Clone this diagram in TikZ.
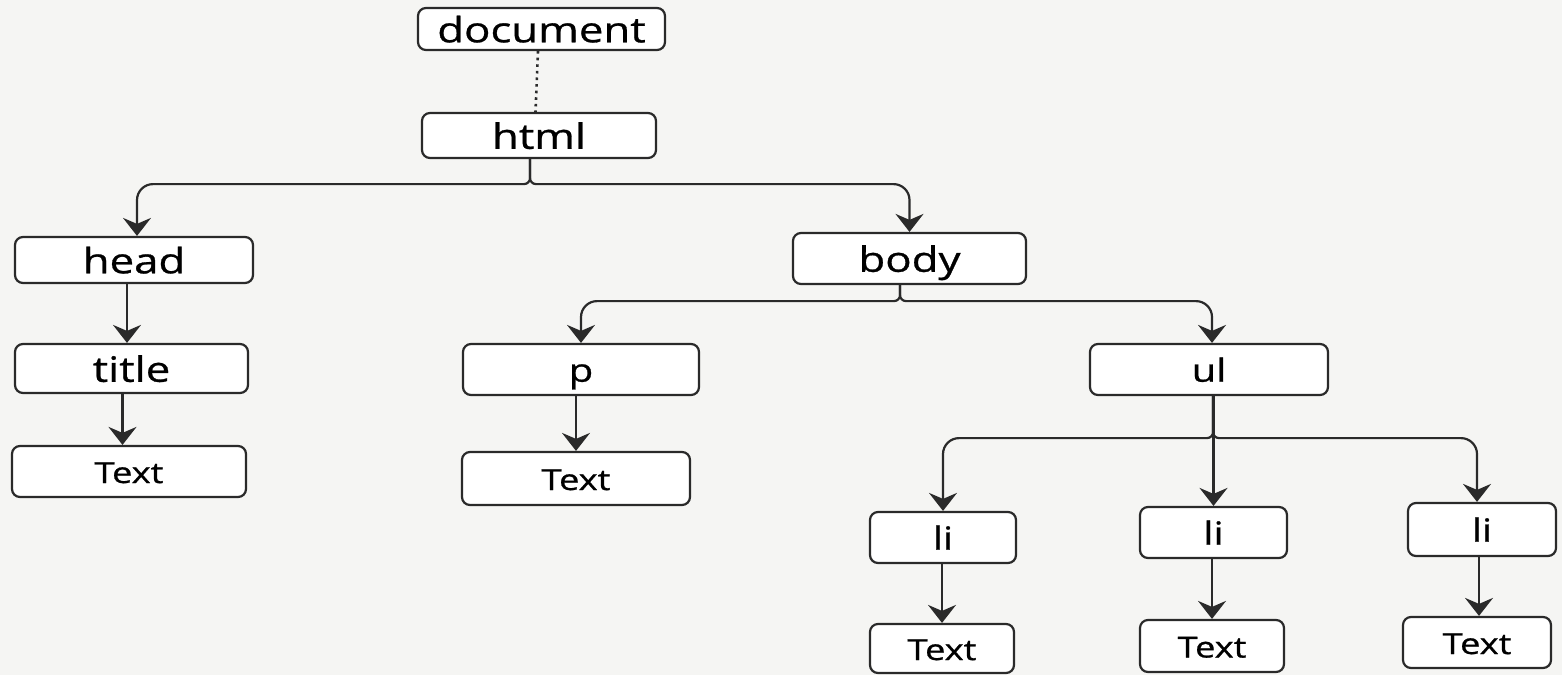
\documentclass[tikz,border=0pt]{standalone}
\usepackage{fontspec}
\setmainfont{Open Sans}[FakeStretch=1.25, FakeBold=0.8]
\usetikzlibrary{arrows.meta}
\definecolor{ink}{HTML}{2A2A2A}
\definecolor{paper}{HTML}{F5F5F3}
\tikzset{
  box/.style={draw=ink, line width=1.1pt, rounded corners=4pt, inner sep=0pt, text=black, fill=white,
    font=\fontsize{17.5}{19}\selectfont, text height=13.3pt, text depth=0pt},
  sbox/.style={box, font=\fontsize{16}{18}\selectfont, text height=12.2pt},
  tbox/.style={box, font=\fontsize{14.5}{16}\selectfont, text height=11.5pt},
  link/.style={draw=ink, line width=1.1pt, -{Stealth[length=9pt,width=14pt,inset=3pt]}},
}
\begin{document}
\begin{tikzpicture}[x=0.5pt, y=-0.5pt]
\fill[paper] (0,0) rectangle (1562,675);
\useasboundingbox (0,0) rectangle (1562,675);

\node[box, minimum width=123.5pt, minimum height=21pt]   (doc)   at (541.5,29)   {document};
\node[box, minimum width=117pt,   minimum height=22.5pt] (html)  at (539,135.5)  {html};
\node[box, minimum width=119pt,   minimum height=23pt]   (head)  at (134,260)    {head};
\node[box, minimum width=116.5pt, minimum height=25.5pt] (body)  at (909.5,258.5){body};
\node[box, minimum width=116.5pt, minimum height=24.5pt] (title) at (131.5,368.5){title};
\node[tbox, minimum width=117pt,  minimum height=25.5pt] (txa)   at (129,471.5)  {Text};
\node[sbox, minimum width=118pt,  minimum height=25.5pt] (p)     at (581,369.5)  {p};
\node[tbox, minimum width=114pt,  minimum height=26.5pt] (txb)   at (576,478.5)  {Text};
\node[sbox, minimum width=119pt,  minimum height=25.5pt] (ul)    at (1209,369.5) {ul};
\node[sbox, minimum width=73pt,   minimum height=25.5pt] (lia)   at (943,537.5)  {li};
\node[sbox, minimum width=73.5pt, minimum height=25.5pt] (lib)   at (1213.5,532.5){li};
\node[sbox, minimum width=74pt,   minimum height=26.5pt] (lic)   at (1482,529.5) {li};
\node[tbox, minimum width=72pt,   minimum height=24.5pt] (txc)   at (942,648.5)  {Text};
\node[tbox, minimum width=72pt,   minimum height=26pt]   (txd)   at (1212,646)   {Text};
\node[tbox, minimum width=74pt,   minimum height=25.5pt] (txe)   at (1477,642.5) {Text};

% document - html
\draw[ink, dotted, line width=1.3pt] ([xshift=-1.75pt]doc.south) -- ([xshift=-1.75pt]html.north);

% html fork
\draw[link] ([xshift=-4.5pt]html.south) [rounded corners=3pt] -- ++(0,25) [rounded corners=8pt] -| ([xshift=1.5pt]head.north);
\draw[link] ([xshift=-4.5pt]html.south) [rounded corners=3pt] -- ++(0,25) [rounded corners=8pt] -| (body.north);

% body fork
\draw[link] ([xshift=-4.75pt]body.south) [rounded corners=3pt] -- ++(0,16) [rounded corners=8pt] -| (p.north);
\draw[link] ([xshift=-4.75pt]body.south) [rounded corners=3pt] -- ++(0,16) [rounded corners=8pt] -| ([xshift=1.5pt]ul.north);

% ul fork
\draw[link] ([xshift=2pt]ul.south) [rounded corners=3pt] -- ++(0,42) [rounded corners=8pt] -| (lia.north);
\draw[link] (lib.north |- ul.south) -- (lib.north);
\draw[link] ([xshift=2pt]ul.south) [rounded corners=3pt] -- ++(0,42) [rounded corners=8pt] -| ([xshift=-2.5pt]lic.north);

% straight links
\draw[link] ([xshift=-3.5pt]head.south) -- ([xshift=-3.5pt]head.south |- title.north);
\draw[link] ([xshift=-4.5pt]title.south) -- ([xshift=-4.5pt]title.south |- txa.north);
\draw[link] (txb.north |- p.south) -- (txb.north);
\draw[link] (txc.north |- lia.south) -- (txc.north);
\draw[link] (txd.north |- lib.south) -- (txd.north);
\draw[link] ([xshift=1pt]txe.north |- lic.south) -- ([xshift=1pt]txe.north);
\end{tikzpicture}
\end{document}
